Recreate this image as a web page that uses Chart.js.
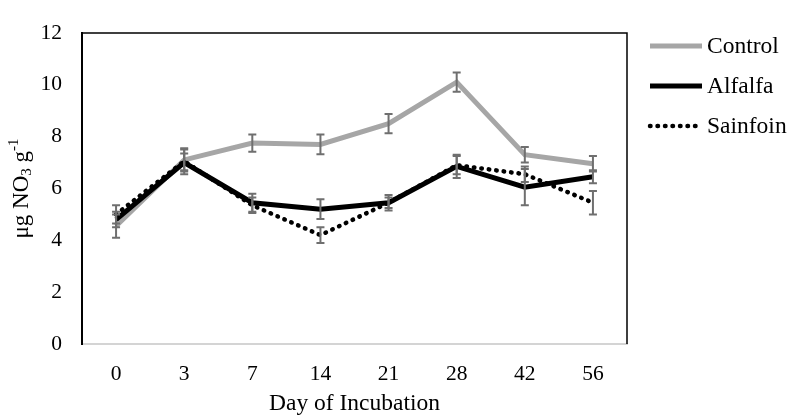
<!DOCTYPE html>
<html>
<head>
<meta charset="utf-8">
<title>Nitrate over incubation</title>
<script src="https://cdn.jsdelivr.net/npm/chart.js@4/dist/chart.umd.min.js"></script>
<style>
  html, body { margin: 0; padding: 0; background: #fff; }
  #wrap { width: 788px; height: 416px; position: relative; }
</style>
</head>
<body>
<div id="wrap"><canvas id="nitrateChart"></canvas></div>
<script>
// Data
const days = ["0", "3", "7", "14", "21", "28", "42", "56"];
const seriesNames = ["Control", "Alfalfa", "Sainfoin"];

const control = [4.55, 7.1, 7.75, 7.7, 8.5, 10.1, 7.3, 6.95];
const alfalfa = [4.8, 7.0, 5.45, 5.2, 5.45, 6.85, 6.05, 6.45];
const sainfoin = [5.0, 7.05, 5.35, 4.2, 5.45, 6.9, 6.55, 5.45];

// standard error bars
const controlErr = [0.45, 0.4, 0.33, 0.38, 0.37, 0.37, 0.3, 0.3];
const alfalfaErr = [0.3, 0.35, 0.35, 0.38, 0.3, 0.45, 0.7, 0.25];
const sainfoinErr = [0.35, 0.5, 0.3, 0.3, 0.2, 0.35, 0.3, 0.45];

const yTicks = [0, 2, 4, 6, 8, 10, 12];

const serif = "'Liberation Serif', 'Times New Roman', serif";

document.addEventListener("DOMContentLoaded", () => {
  const errors = [controlErr, alfalfaErr, sainfoinErr];

  // 1. error bars, drawn over the lines
  const errorBars = {
    id: "errorBars",
    afterDatasetsDraw(chart) {
      const ctx = chart.ctx;
      const y = chart.scales.y;
      ctx.save();
      ctx.strokeStyle = "#6f6f6f";
      ctx.lineWidth = 2;
      chart.data.datasets.forEach((ds, i) => {
        const meta = chart.getDatasetMeta(i);
        meta.data.forEach((pt, j) => {
          const v = ds.data[j];
          const e = errors[i][j];
          const top = y.getPixelForValue(v + e);
          const bot = y.getPixelForValue(v - e);
          ctx.beginPath();
          ctx.moveTo(pt.x, top);
          ctx.lineTo(pt.x, bot);
          ctx.moveTo(pt.x - 4, top);
          ctx.lineTo(pt.x + 4, top);
          ctx.moveTo(pt.x - 4, bot);
          ctx.lineTo(pt.x + 4, bot);
          ctx.stroke();
        });
      });
      ctx.restore();
    }
  };

  // 2. frame (top + right), y title with sub/superscript, legend
  const extras = {
    id: "extras",
    afterDraw(chart) {
      const ctx = chart.ctx;
      const a = chart.chartArea;
      ctx.save();

      ctx.strokeStyle = "#000";
      ctx.lineWidth = 1.5;
      ctx.beginPath();
      ctx.moveTo(a.left, a.top);
      ctx.lineTo(a.right, a.top);
      ctx.lineTo(a.right, a.bottom);
      ctx.stroke();

      // y axis title: µg NO3 g-1
      ctx.translate(22, (a.top + a.bottom) / 2);
      ctx.rotate(-Math.PI / 2);
      ctx.fillStyle = "#000";
      ctx.textBaseline = "middle";
      ctx.textAlign = "left";
      const big = "23px " + serif;
      const small = "15px " + serif;
      const parts = [
        { t: "\u03bcg NO", f: big, dy: 0 },
        { t: "3", f: small, dy: 5 },
        { t: " g", f: big, dy: 0 },
        { t: "-1", f: small, dy: -8 }
      ];
      let total = 0;
      parts.forEach(p => { ctx.font = p.f; total += ctx.measureText(p.t).width; });
      let x = -total / 2;
      parts.forEach(p => {
        ctx.font = p.f;
        ctx.fillText(p.t, x, p.dy);
        x += ctx.measureText(p.t).width;
      });
      ctx.setTransform(1, 0, 0, 1, 0, 0);

      // legend
      ctx.font = "23.5px " + serif;
      chart.data.datasets.forEach((ds, i) => {
        const ly = 46 + i * 40;
        ctx.strokeStyle = ds.borderColor;
        ctx.lineWidth = ds.borderWidth;
        ctx.lineCap = ds.borderCapStyle || "butt";
        ctx.setLineDash(ds.borderDash || []);
        ctx.beginPath();
        ctx.moveTo(650, ly);
        ctx.lineTo(702, ly);
        ctx.stroke();
        ctx.setLineDash([]);
        ctx.fillStyle = "#000";
        ctx.textAlign = "left";
        ctx.textBaseline = "middle";
        ctx.fillText(ds.label, 707, ly + 1);
      });
      ctx.restore();
    }
  };

  const ctx = document.getElementById("nitrateChart").getContext("2d");
  new Chart(ctx, {
    type: "line",
    data: {
      labels: days,
      datasets: [
        {
          label: seriesNames[0],
          data: control,
          borderColor: "#a6a6a6",
          borderWidth: 5,
          order: 3
        },
        {
          label: seriesNames[1],
          data: alfalfa,
          borderColor: "#000000",
          borderWidth: 5,
          order: 2
        },
        {
          label: seriesNames[2],
          data: sainfoin,
          borderColor: "#000000",
          borderWidth: 4.5,
          borderDash: [0.5, 7],
          borderCapStyle: "round",
          order: 1
        }
      ]
    },
    options: {
      responsive: false,
      animation: false,
      devicePixelRatio: 1,
      layout: { padding: { top: 18, right: 161, left: 0, bottom: 0 } },
      elements: {
        point: { radius: 0, hoverRadius: 0 },
        line: { tension: 0, fill: false }
      },
      plugins: {
        legend: { display: false },
        tooltip: { enabled: false }
      },
      scales: {
        x: {
          offset: true,
          grid: { display: false, drawTicks: false },
          border: { display: true, color: "#d4d4d4", width: 2 },
          ticks: { color: "#000", font: { family: serif, size: 21.5 }, padding: 17 },
          title: {
            display: true,
            text: "Day of Incubation",
            color: "#000",
            font: { family: serif, size: 23.5, lineHeight: 1 },
            padding: { top: 0, bottom: 0 }
          },
          afterFit: (scale) => { scale.height = 72; }
        },
        y: {
          min: 0,
          max: 12,
          afterBuildTicks: (scale) => { scale.ticks = yTicks.map(v => ({ value: v })); },
          grid: { display: false, drawTicks: false },
          border: { display: true, color: "#000", width: 2 },
          ticks: { color: "#000", font: { family: serif, size: 21.5 }, padding: 20 },
          afterFit: (scale) => { scale.width = 82; }
        }
      }
    },
    plugins: [errorBars, extras]
  });
});
</script>
<script>
  // canvas size fixed to the figure
  const c = document.getElementById("nitrateChart");
  c.width = 788; c.height = 416;
  c.style.width = "788px"; c.style.height = "416px";
</script>
</body>
</html>
